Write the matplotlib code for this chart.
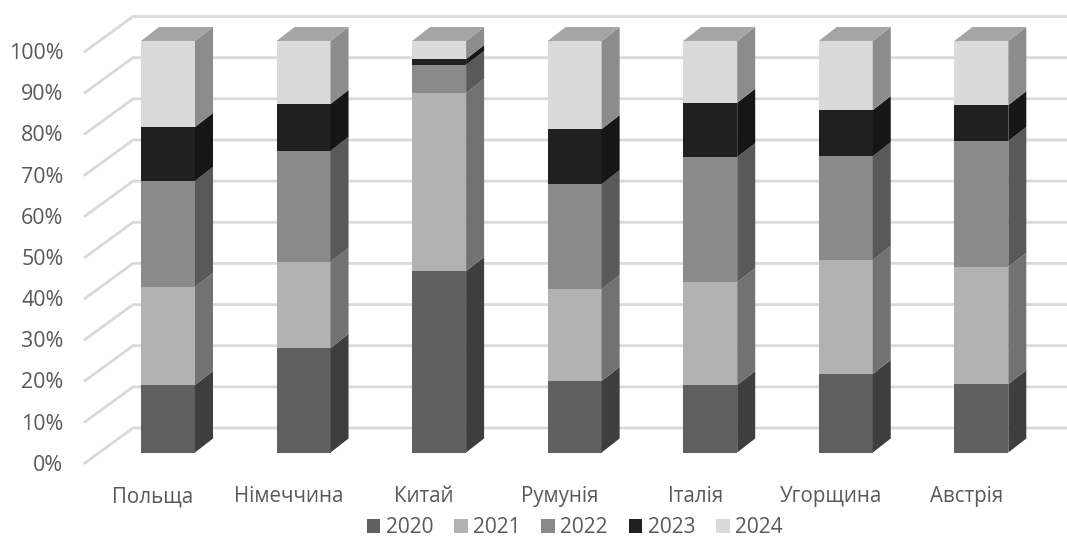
import matplotlib
matplotlib.use('Agg')
import matplotlib.pyplot as plt
from matplotlib.patches import Polygon, Patch
from matplotlib.transforms import ScaledTranslation

plt.rcParams['font.family'] = ['Open Sans', 'DejaVu Sans']

countries = ['Польща', 'Німеччина', 'Китай', 'Румунія', 'Італія', 'Угорщина', 'Австрія']
years = ['2020', '2021', '2022', '2023', '2024']

# shares in percent
y2020 = [16.4, 25.4, 44.1, 17.4, 16.4, 19.1, 16.6]
y2021 = [23.8, 20.9, 43.3, 22.3, 25.0, 27.7, 28.5]
y2022 = [25.8, 27.0, 6.8, 25.5, 30.4, 25.2, 30.6]
y2023 = [13.1, 11.4, 1.4, 13.4, 13.2, 11.2, 8.7]
y2024 = [20.9, 15.3, 4.4, 21.4, 15.0, 16.8, 15.6]
series = [y2020, y2021, y2022, y2023, y2024]

front_colors = ['#606060', '#b2b2b2', '#8a8a8a', '#202020', '#dadada']
side_colors = ['#3e3e3e', '#727272', '#595959', '#161616', '#8c8c8c']
top_color = '#a5a5a5'
grid_color = '#d9d9d9'
text_color = '#595959'

W, H = 1067, 536
PX_X = 135.55  # pixels per category
PX_Y = 4.115   # pixels per percent
X0 = 168.0     # pixel of first bar centre
Y0 = 452.5     # pixel of 0%
LEFT = 85.0
BOTTOM = 475.0

fig = plt.figure(figsize=(W / 100, H / 100), dpi=100)
ax = fig.add_axes([LEFT / W, (H - BOTTOM) / H, 1 - LEFT / W, BOTTOM / H])
ax.set_xlim((LEFT - X0) / PX_X, (W - X0) / PX_X)
ax.set_ylim((Y0 - BOTTOM) / PX_Y, Y0 / PX_Y)
for s in ax.spines.values():
    s.set_visible(False)

bar_w = 54.0 / PX_X
dx = 18.0 / PX_X   # bar depth
dy = 14.0 / PX_Y

# walls: slanted part on the left, then straight along the back
x_front = (LEFT - X0) / PX_X
x_back = (133.0 - X0) / PX_X
x_end = (W - X0) / PX_X
for v in range(0, 101, 10):
    ax.plot([x_front, x_back, x_end], [v - 2.55, v + 5.95, v + 5.95],
            color=grid_color, lw=2.0, solid_joinstyle='miter', clip_on=False, zorder=1)

for i in range(len(countries)):
    left = i - bar_w / 2
    right = i + bar_w / 2
    base = 0.0
    for k, vals in enumerate(series):
        top = base + vals[i]
        ax.add_patch(Polygon([(left, base), (right, base), (right, top), (left, top)],
                             facecolor=front_colors[k], edgecolor='none', zorder=3))
        ax.add_patch(Polygon([(right, base), (right + dx, base + dy),
                              (right + dx, top + dy), (right, top)],
                             facecolor=side_colors[k], edgecolor='none', zorder=3))
        base = top
    ax.add_patch(Polygon([(left, base), (right, base), (right + dx, base + dy), (left + dx, base + dy)],
                         facecolor=top_color, edgecolor='none', zorder=3))

ax.set_yticks(range(0, 101, 10))
ax.set_yticklabels([f'{v}%' for v in range(0, 101, 10)], fontsize=15.4, color=text_color)
ax.set_xticks(range(len(countries)))
ax.set_xticklabels(countries, fontsize=14.8, color=text_color)
ax.tick_params(axis='y', length=0, pad=15.5)
ax.tick_params(axis='x', length=0, pad=8)

# labels sit on the front edge of the floor, not on the bar plane
y_shift = ScaledTranslation(0, -10.2 / 100, fig.dpi_scale_trans)
x_shift = ScaledTranslation(-15 / 100, 0, fig.dpi_scale_trans)
for lbl in ax.get_yticklabels():
    lbl.set_transform(lbl.get_transform() + y_shift)
for lbl in ax.get_xticklabels():
    lbl.set_transform(lbl.get_transform() + x_shift)

handles = [Patch(facecolor=c, edgecolor='none', label=y) for c, y in zip(front_colors, years)]
fig.legend(handles=handles, loc='center', bbox_to_anchor=(0.5385, 1 - 527.5 / H), ncol=5, frameon=False,
           fontsize=15, labelcolor=text_color, handlelength=0.66, handleheight=0.66,
           handletextpad=0.25, columnspacing=1.0, borderpad=0, borderaxespad=0)

fig.savefig('out.png', dpi=100)
